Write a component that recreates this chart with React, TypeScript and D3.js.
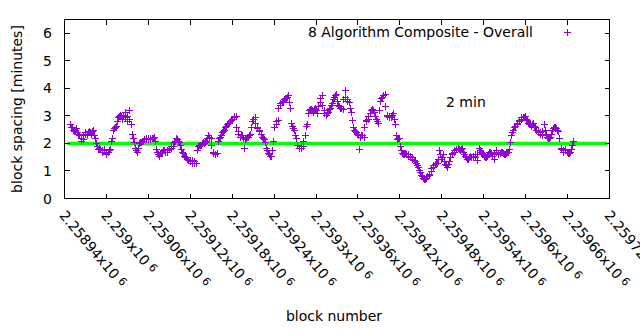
import React from "react";
import * as d3 from "d3";

// ---- data ----
const blockStart = 2258948;
const blockStep = 3;
// values read at blockStart + 3*i
const spacingMinutes: number[] = [
  2.7, 2.6, 2.45, 2.55, 2.35,
  2.2, 2.15, 2.4, 2.3, 2.45,
  2.35, 2.5, 2.2, 1.9, 1.85,
  1.75, 1.8, 1.65, 1.7, 1.8,
  2.2, 2.55, 2.65, 2.95, 3.05,
  2.9, 3.15, 2.8, 3.2, 2.7,
  2.2, 1.85, 1.7, 2.0, 2.05,
  2.1, 2.15, 2.2, 2.15, 2.2,
  2.25, 1.8, 1.6, 1.65, 1.7,
  1.75, 1.7, 1.8, 1.85, 1.9,
  2.1, 2.15, 2.05, 1.8, 1.65,
  1.5, 1.45, 1.35, 1.4, 1.3,
  1.3, 1.9, 1.95, 2.0, 2.0,
  2.1, 2.3, 2.2, 1.7, 1.6,
  1.65, 2.2, 2.3, 2.45, 2.6,
  2.7, 2.75, 2.85, 2.95, 3.0,
  2.45, 2.25, 2.3, 1.85, 2.2,
  2.25, 2.35, 2.8, 2.95, 2.6,
  2.5, 2.35, 2.2, 2.05, 1.75,
  1.6, 1.55, 2.1, 2.7, 2.85,
  3.4, 3.5, 3.6, 3.65, 3.75,
  3.3, 2.65, 2.5, 2.2, 1.85,
  1.85, 1.9, 2.3, 2.7, 3.2,
  3.25, 3.15, 3.3, 3.1, 3.5,
  3.75, 3.2, 3.05, 3.15, 3.3,
  3.45, 3.7, 3.8, 3.4, 3.3,
  3.25, 3.95, 3.6, 3.5, 3.15,
  2.6, 2.45, 2.35, 1.8, 2.3,
  2.25, 2.8, 2.9, 3.1, 3.25,
  3.15, 2.9, 2.75, 3.55, 3.7,
  3.8, 3.05, 3.0, 2.95, 3.1,
  2.7, 2.15, 2.2, 1.75, 1.6,
  1.65, 1.6, 1.55, 1.5, 1.4,
  1.3, 1.15, 0.95, 0.8, 0.7,
  0.75, 0.85, 1.0, 1.15, 1.25,
  1.3, 1.75, 1.45, 1.6, 1.25,
  1.15, 1.35, 1.6, 1.7, 1.8,
  1.85, 1.75, 1.85, 1.6, 1.5,
  1.45, 1.55, 1.5, 1.6, 1.4,
  1.85, 1.7, 1.6, 1.5, 1.55,
  1.7, 1.65, 1.45, 1.75, 1.6,
  1.65, 1.7, 1.6, 1.65, 1.7,
  2.05, 2.4, 2.6, 2.7, 2.8,
  2.9, 2.95, 3.0, 2.85, 2.7,
  2.65, 2.75, 2.6, 2.45, 2.4,
  2.3, 2.7, 2.35, 2.2, 2.25,
  2.5, 2.6, 2.55, 2.45, 1.85,
  1.75, 1.8, 1.7, 1.65, 1.8, 2.1,
];
// values read at blockStart + 1 + 3*i
const spacingMinutesB: number[] = [
  2.6, 2.5, 2.5, 2.4, 2.3,
  2.1, 2.3, 2.35, 2.4, 2.4,
  2.45, 2.3, 2.0, 1.8, 1.8,
  1.7, 1.75, 1.6, 1.75, 2.1,
  2.5, 2.6, 2.8, 3.0, 3.0,
  3.05, 2.95, 3.0, 2.9, 2.35,
  2.05, 1.75, 1.85, 2.05, 2.1,
  2.15, 2.2, 2.15, 2.2, 2.2,
  2.1, 1.7, 1.55, 1.7, 1.75,
  1.7, 1.75, 1.8, 1.9, 2.05,
  2.2, 2.1, 1.95, 1.7, 1.55,
  1.5, 1.4, 1.4, 1.3, 1.35,
  1.75, 1.95, 1.95, 2.05, 2.05,
  2.2, 2.25, 1.95, 1.65, 1.6,
  2.1, 2.25, 2.4, 2.5, 2.65,
  2.75, 2.8, 2.9, 3.0, 2.6,
  2.35, 2.3, 2.2, 2.15, 2.25,
  2.3, 2.6, 2.9, 2.75, 2.55,
  2.45, 2.25, 2.15, 1.85, 1.65,
  1.55, 1.75, 2.6, 2.8, 3.3,
  3.45, 3.55, 3.65, 3.7, 3.5,
  2.75, 2.55, 2.3, 1.95, 1.85,
  1.9, 2.1, 2.65, 3.1, 3.25,
  3.2, 3.25, 3.2, 3.35, 3.65,
  3.4, 3.1, 3.1, 3.25, 3.4,
  3.6, 3.75, 3.55, 3.35, 3.3,
  3.6, 3.7, 3.55, 3.3, 2.85,
  2.5, 2.4, 2.3, 2.25, 2.3,
  2.6, 2.85, 3.0, 3.2, 3.2,
  3.0, 2.8, 3.2, 3.65, 3.75,
  3.35, 3.0, 2.95, 3.05, 2.9,
  2.3, 2.2, 1.9, 1.65, 1.6,
  1.6, 1.55, 1.5, 1.45, 1.35,
  1.2, 1.05, 0.85, 0.75, 0.7,
  0.8, 0.9, 1.1, 1.2, 1.3,
  1.45, 1.6, 1.5, 1.35, 1.2,
  1.25, 1.5, 1.65, 1.75, 1.8,
  1.8, 1.8, 1.7, 1.55, 1.45,
  1.5, 1.5, 1.55, 1.5, 1.6,
  1.75, 1.65, 1.55, 1.5, 1.6,
  1.7, 1.55, 1.6, 1.7, 1.65,
  1.7, 1.65, 1.6, 1.7, 1.8,
  2.3, 2.5, 2.65, 2.75, 2.85,
  2.95, 2.95, 2.9, 2.75, 2.7,
  2.7, 2.65, 2.5, 2.4, 2.35,
  2.45, 2.5, 2.25, 2.2, 2.35,
  2.55, 2.6, 2.5, 2.2, 1.8,
  1.7, 1.75, 1.65, 1.7, 1.95,
];
const targetLineBlocks: number[] = [2258944, 2259717];
const targetMinutes = 2;
const xTickValues: number[] = [
  2258940, 2259000, 2259060, 2259120, 2259180, 2259240, 2259300,
  2259360, 2259420, 2259480, 2259540, 2259600, 2259660, 2259720,
];
const yTickValues: number[] = [0, 1, 2, 3, 4, 5, 6];
const xDomain: number[] = [2258940, 2259720];
const yDomain: number[] = [0, 6.5];
const legendLabel = "8 Algorithm Composite - Overall";
const annotation = "2 min";
const xTitle = "block number";
const yTitle = "block spacing [minutes]";

// ---- layout ----
const W = 640, H = 330;
const L = 64.5, R = 609.5, T = 19.5, B = 198.5;
const FONT = "'DejaVu Sans', sans-serif";
const PURPLE = "#9400d3";
const GREEN = "#00ff00";

export default function App() {
  const x = d3.scaleLinear().domain(xDomain).range([L, R]);
  const y = d3.scaleLinear().domain(yDomain).range([B, T]);
  const pts = [
    ...spacingMinutes.map((v, i) => ({ b: blockStart + i * blockStep, v })),
    ...spacingMinutesB.map((v, i) => ({ b: blockStart + 1 + i * blockStep, v })),
  ];
  const plus = (cx: number, cy: number) =>
    `M${cx - 3.5},${cy}H${cx + 3.5}M${cx},${cy - 3.5}V${cy + 3.5}`;
  const pathD = pts.map((p) => plus(Math.round(x(p.b)) + 0.5, Math.round(y(p.v)) + 0.5)).join("");
  const fmt = d3.format(".6~g");
  const tick = 5;

  return (
    <svg width={W} height={H} style={{ position: "absolute", left: 0, top: 0, background: "#fff" }}
      fontFamily={FONT} fontSize={14}>
      <rect x={0} y={0} width={W} height={H} fill="#fff" />
      <line x1={x(targetLineBlocks[0])} x2={x(targetLineBlocks[1])}
        y1={y(targetMinutes)} y2={y(targetMinutes)} stroke={GREEN} strokeWidth={3.5} />
      <path d={pathD} stroke={PURPLE} strokeWidth={1} fill="none" shapeRendering="crispEdges" />
      <rect x={L} y={T} width={R - L} height={B - T} fill="none" stroke="#000" strokeWidth={1} shapeRendering="crispEdges" />
      {yTickValues.map((t) => (
        <g key={"y" + t}>
          <line x1={L} x2={L + tick} y1={y(t)} y2={y(t)} stroke="#000" shapeRendering="crispEdges" />
          <line x1={R} x2={R - tick} y1={y(t)} y2={y(t)} stroke="#000" shapeRendering="crispEdges" />
          <text x={52} y={y(t)} dy="0.36em" textAnchor="end" fill="#000">{t}</text>
        </g>
      ))}
      {xTickValues.map((t) => (
        <g key={"x" + t}>
          <line x1={x(t)} x2={x(t)} y1={B} y2={B - tick} stroke="#000" shapeRendering="crispEdges" />
          <line x1={x(t)} x2={x(t)} y1={T} y2={T + tick} stroke="#000" shapeRendering="crispEdges" />
          <text transform={`translate(${x(t) - 2},${B + 14}) rotate(50)`} dy="0.36em" textAnchor="start" fill="#000">
            {fmt(t / 1e6)}x10
            <tspan dx={4} fontSize={11} dy={-3}>6</tspan>
          </text>
        </g>
      ))}
      <text x={334} y={321} textAnchor="middle" fill="#000">{xTitle}</text>
      <text transform={`translate(22,109) rotate(-90)`} textAnchor="middle" fill="#000">{yTitle}</text>
      <text x={533} y={37} textAnchor="end" fill="#000">{legendLabel}</text>
      <path d={plus(567.5, 32.5)} stroke={PURPLE} strokeWidth={1} shapeRendering="crispEdges" />
      <text x={446} y={107} fill="#000">{annotation}</text>
    </svg>
  );
}
